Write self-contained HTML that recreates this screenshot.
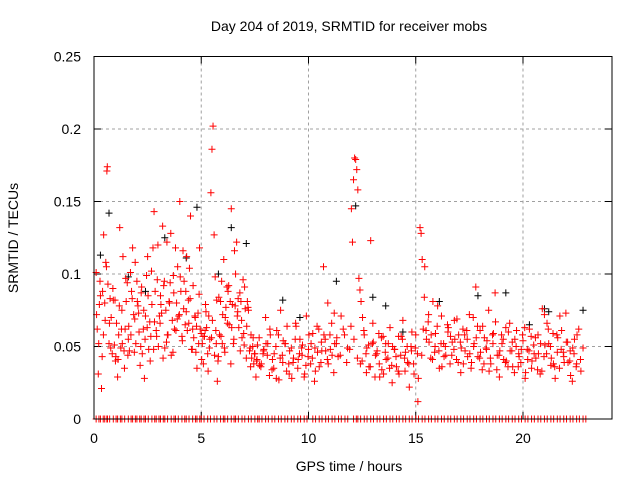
<!DOCTYPE html>
<html><head><meta charset="utf-8"><style>
html,body{margin:0;padding:0;background:#fff;}
svg{display:block;font-family:"Liberation Sans",sans-serif;}
</style></head><body>
<svg id="chart" width="640" height="480" viewBox="0 0 640 480">
<text x="349" y="31" font-size="14" text-anchor="middle">Day 204 of 2019, SRMTID for receiver mobs</text>
<text x="349" y="471" font-size="14" text-anchor="middle">GPS time / hours</text>
<text transform="translate(18,238) rotate(-90)" font-size="14" text-anchor="middle">SRMTID / TECUs</text>
<g id="grid"></g>
<g id="ticks"></g>
<g id="black"></g>
<g id="red"></g>
<rect x="94" y="56.5" width="518" height="362.5" fill="none" stroke="#000" stroke-width="1"/>
</svg>
<script>
const xTicks=[0,5,10,15,20];
const yTicks=[0,0.05,0.1,0.15,0.2,0.25];
const yTickLabels=["0","0.05","0.1","0.15","0.2","0.25"];
const redHours=[0.1,0.15,0.2,0.25,0.3,0.35,0.4,0.45,0.5,0.55,0.6,0.62,0.65,0.7,0.75,0.8,0.85,0.9,0.95,1.0,1.05,1.1,1.15,1.2,1.25,1.3,1.35,1.4,1.45,1.5,1.55,1.6,1.65,1.7,1.75,1.8,1.85,1.9,1.95,2.0,2.05,2.1,2.15,2.2,2.25,2.3,2.35,2.4,2.45,2.5,2.55,2.6,2.65,2.7,2.75,2.8,2.85,2.9,2.95,3.0,3.05,3.1,3.15,3.2,3.25,3.3,3.35,3.4,3.45,3.5,3.55,3.6,3.65,3.7,3.75,3.8,3.85,3.9,3.95,4.0,4.05,4.1,4.15,4.2,4.25,4.3,4.35,4.4,4.45,4.5,4.55,4.6,4.65,4.7,4.75,4.8,4.85,4.9,4.95,5.0,5.05,5.1,5.15,5.2,5.25,5.3,5.35,5.4,5.45,5.5,5.55,5.6,5.65,5.7,5.72,5.75,5.8,5.85,5.9,5.95,6.0,6.05,6.1,6.15,6.2,6.25,6.3,6.35,6.4,6.45,6.5,6.55,6.6,6.65,6.7,6.75,6.8,6.85,6.9,6.95,7.0,7.05,7.1,7.15,7.2,7.25,7.3,7.35,7.4,7.45,7.5,7.55,7.6,7.7,7.8,7.9,8.0,8.1,8.2,8.3,8.4,8.5,8.6,8.7,8.8,8.9,9.0,9.1,9.2,9.3,9.4,9.5,9.6,9.7,9.8,9.9,10.0,10.1,10.2,10.3,10.4,10.5,10.6,10.7,10.8,10.9,11.0,11.1,11.2,11.3,11.4,11.5,11.6,11.7,11.8,11.9];
const redValues=[0.101,0.062,0.031,0.079,0.085,0.021,0.088,0.127,0.08,0.108,0.171,0.174,0.093,0.052,0.083,0.07,0.045,0.082,0.051,0.04,0.066,0.029,0.058,0.132,0.049,0.075,0.112,0.047,0.062,0.081,0.094,0.055,0.047,0.101,0.088,0.118,0.072,0.069,0.052,0.095,0.078,0.06,0.037,0.087,0.045,0.062,0.028,0.071,0.099,0.112,0.048,0.067,0.057,0.079,0.118,0.143,0.088,0.061,0.096,0.05,0.071,0.085,0.073,0.133,0.092,0.049,0.075,0.122,0.058,0.081,0.094,0.044,0.068,0.099,0.062,0.118,0.08,0.105,0.071,0.15,0.088,0.057,0.116,0.095,0.065,0.074,0.061,0.082,0.104,0.14,0.048,0.062,0.056,0.071,0.046,0.035,0.073,0.086,0.062,0.059,0.052,0.038,0.057,0.079,0.063,0.045,0.071,0.055,0.156,0.186,0.202,0.127,0.098,0.052,0.082,0.026,0.043,0.058,0.081,0.095,0.072,0.11,0.046,0.077,0.091,0.088,0.065,0.081,0.145,0.079,0.052,0.116,0.1,0.122,0.074,0.063,0.087,0.081,0.056,0.096,0.051,0.076,0.042,0.081,0.075,0.047,0.036,0.042,0.05,0.038,0.045,0.029,0.041,0.056,0.038,0.047,0.07,0.052,0.062,0.034,0.045,0.028,0.058,0.075,0.039,0.052,0.064,0.031,0.049,0.042,0.066,0.035,0.055,0.044,0.029,0.071,0.048,0.038,0.059,0.049,0.064,0.036,0.053,0.105,0.047,0.08,0.058,0.044,0.073,0.052];
const redHoursB=[12.0,12.05,12.1,12.15,12.2,12.25,12.3,12.35,12.4,12.45,12.5,12.6,12.7,12.8,12.9,13.0,13.1,13.2,13.3,13.4,13.5,13.6,13.7,13.8,13.9,14.0,14.1,14.2,14.3,14.4,14.5,14.6,14.7,14.8,14.9,15.0,15.1,15.2,15.25,15.3,15.35,15.4,15.5,15.6,15.7,15.8,15.9,16.0,16.1,16.2,16.3,16.4,16.5,16.6,16.7,16.8,16.9,17.0,17.1,17.2,17.3,17.4,17.5,17.6,17.7,17.8,17.9,18.0,18.1,18.2,18.3,18.4,18.5,18.6,18.7,18.8,18.9,19.0,19.1,19.2,19.3,19.4,19.5,19.6,19.7,19.8,19.9,20.0,20.1,20.2,20.3,20.4,20.5,20.6,20.7,20.8,20.9,21.0,21.1,21.2,21.3,21.4,21.5,21.6,21.7,21.8,21.9,22.0,22.1,22.2,22.3,22.4,22.5,22.6,22.7,22.8];
const redValuesB=[0.145,0.122,0.165,0.18,0.179,0.172,0.158,0.097,0.089,0.081,0.04,0.058,0.032,0.051,0.123,0.066,0.029,0.047,0.038,0.056,0.031,0.052,0.042,0.063,0.025,0.048,0.036,0.057,0.044,0.068,0.033,0.05,0.022,0.047,0.038,0.058,0.012,0.132,0.128,0.11,0.062,0.084,0.055,0.072,0.042,0.081,0.05,0.064,0.035,0.071,0.052,0.044,0.06,0.038,0.053,0.068,0.041,0.058,0.032,0.062,0.047,0.055,0.072,0.039,0.05,0.091,0.043,0.061,0.034,0.056,0.048,0.075,0.038,0.052,0.087,0.044,0.029,0.058,0.041,0.063,0.036,0.047,0.053,0.032,0.061,0.045,0.039,0.054,0.028,0.048,0.062,0.035,0.051,0.042,0.058,0.031,0.076,0.072,0.045,0.052,0.037,0.059,0.028,0.046,0.035,0.061,0.043,0.073,0.039,0.047,0.026,0.055,0.038,0.062,0.033,0.049,0.041,0.058];
const redHoursC=[0.12,0.28,0.44,0.58,0.72,0.88,1.02,1.18,1.32,1.48,1.62,1.78,1.92,2.08,2.22,2.38,2.52,2.68,2.82,2.98,3.12,3.28,3.42,3.58,3.72,3.88,4.02,4.18,4.32,4.48,4.62,4.78,4.92,5.08,5.22,5.38,5.52,5.68,5.82,5.98,6.12,6.28,6.42,6.58,6.72,6.88,7.02,7.18,7.32,7.48,7.62,7.78,7.92,8.08,8.22,8.38,8.52,8.68,8.82,8.98,9.12,9.28,9.42,9.58,9.72,9.88,10.02,10.18,10.32,10.48,10.62,10.78,10.92,11.08,11.22,11.38,11.52,11.68,11.82,11.98,12.12,12.28,12.42,12.58,12.72,12.88,13.02,13.18,13.32,13.48,13.62,13.78,13.92,14.08,14.22,14.38,14.52,14.68,14.82,14.98,15.12,15.28,15.42,15.58,15.72,15.88,16.02,16.18,16.32,16.48,16.62,16.78,16.92,17.08,17.22,17.38,17.52,17.68,17.82,17.98,18.12,18.28,18.42,18.58,18.72,18.88,19.02,19.18,19.32,19.48,19.62,19.78,19.92,20.08,20.22,20.38,20.52,20.68,20.82,20.98,21.12,21.28,21.42,21.58,21.72,21.88,22.02,22.18,22.32,22.48,22.62,22.78];
const redValuesC=[0.072,0.095,0.058,0.105,0.066,0.09,0.043,0.078,0.052,0.097,0.064,0.083,0.108,0.073,0.091,0.055,0.085,0.102,0.067,0.12,0.079,0.095,0.058,0.128,0.087,0.069,0.098,0.076,0.112,0.083,0.092,0.064,0.118,0.057,0.074,0.049,0.068,0.061,0.084,0.052,0.07,0.092,0.063,0.078,0.083,0.068,0.091,0.077,0.058,0.045,0.051,0.036,0.048,0.044,0.058,0.035,0.061,0.042,0.054,0.033,0.047,0.039,0.064,0.045,0.051,0.037,0.058,0.042,0.033,0.062,0.047,0.055,0.038,0.066,0.052,0.043,0.071,0.058,0.049,0.064,0.055,0.042,0.038,0.061,0.049,0.036,0.053,0.045,0.029,0.057,0.041,0.035,0.05,0.043,0.031,0.055,0.046,0.038,0.06,0.049,0.028,0.044,0.105,0.067,0.058,0.046,0.078,0.052,0.043,0.065,0.057,0.048,0.069,0.053,0.038,0.061,0.045,0.07,0.056,0.042,0.064,0.049,0.033,0.058,0.067,0.044,0.052,0.039,0.06,0.047,0.055,0.036,0.048,0.063,0.041,0.057,0.045,0.034,0.052,0.043,0.066,0.05,0.038,0.058,0.071,0.046,0.053,0.04,0.049,0.036];
const redHoursD=[0.22,0.38,0.52,0.78,0.98,1.12,1.28,1.42,1.58,1.72,1.88,2.02,2.18,2.32,2.48,2.62,2.78,2.92,3.08,3.22,3.38,3.52,3.68,3.82,3.98,4.12,4.28,4.42,4.58,4.72,4.88,5.02,5.18,5.32,5.48,5.62,5.78,5.92,6.08,6.22,6.38,6.52,6.68,6.82,6.98,7.12,7.28,7.42,7.58,7.72,7.88,8.02,8.18,8.32,8.48,8.62,8.78,8.92,9.08,9.22,9.38,9.52,9.68,9.82,9.98,10.12,10.28,10.42,10.58,10.72,10.88,11.02,11.18,11.32,11.48,11.62,11.78,11.92,12.52,12.68,12.82,12.98,13.12,13.28,13.42,13.58,13.72,13.88,14.02,14.18,14.32,14.48,14.62,14.78,14.92,15.08,15.48,15.62,15.78,15.92,16.08,16.22,16.38,16.52,16.68,16.82,16.98,17.12,17.28,17.42,17.58,17.72,17.88,18.02,18.18,18.32,18.48,18.62,18.78,18.92,19.08,19.22,19.38,19.52,19.68,19.82,19.98,20.12,20.28,20.42,20.58,20.72,20.88,21.02,21.18,21.32,21.48,21.62,21.78,21.92,22.08,22.22,22.38,22.52,22.68];
const redValuesD=[0.052,0.043,0.068,0.049,0.082,0.041,0.062,0.035,0.044,0.058,0.046,0.081,0.05,0.075,0.063,0.04,0.048,0.057,0.066,0.042,0.053,0.08,0.046,0.061,0.072,0.054,0.088,0.066,0.048,0.07,0.052,0.041,0.061,0.033,0.056,0.044,0.04,0.057,0.049,0.066,0.038,0.055,0.071,0.047,0.059,0.064,0.049,0.056,0.04,0.037,0.045,0.052,0.03,0.041,0.05,0.027,0.044,0.052,0.038,0.028,0.055,0.041,0.049,0.031,0.043,0.052,0.026,0.046,0.039,0.058,0.041,0.048,0.032,0.056,0.044,0.062,0.039,0.048,0.07,0.045,0.036,0.052,0.044,0.059,0.034,0.046,0.052,0.037,0.048,0.033,0.057,0.042,0.039,0.05,0.031,0.045,0.061,0.053,0.041,0.059,0.047,0.036,0.05,0.063,0.044,0.055,0.039,0.049,0.058,0.043,0.035,0.052,0.064,0.046,0.038,0.054,0.042,0.059,0.034,0.047,0.055,0.04,0.066,0.036,0.05,0.043,0.058,0.032,0.047,0.04,0.056,0.045,0.033,0.051,0.062,0.042,0.036,0.056,0.048,0.039,0.053,0.03,0.045,0.058,0.041];
const blackHours=[0.3,0.7,1.6,2.4,3.3,4.3,4.8,5.8,6.4,7.1,8.8,9.6,11.3,12.2,13.0,13.6,14.4,16.1,17.9,19.2,20.3,21.0,21.2,22.8];
const blackValues=[0.113,0.142,0.098,0.088,0.125,0.111,0.146,0.1,0.132,0.121,0.082,0.07,0.095,0.147,0.084,0.078,0.06,0.081,0.085,0.087,0.065,0.076,0.074,0.075];
const zeroHours=[0.1,0.3,0.5,0.6,0.9,1.1,1.3,1.6,1.8,2.0,2.2,2.4,2.7,2.9,3.1,3.3,3.6,3.8,4.1,4.3,4.6,4.8,5.0,5.3,5.6,5.9,6.1,6.4,6.6,6.9,7.2,7.5,7.7,8.0,8.3,8.6,8.9,9.2,9.5,9.8,10.2,10.5,10.8,11.1,11.4,11.7,12.1,12.3,12.6,12.9,13.2,13.5,13.8,14.1,14.4,14.7,15.0,15.3,15.6,15.9,16.2,16.5,16.8,17.1,17.4,17.7,18.0,18.3,18.6,18.9,19.2,19.5,19.8,20.1,20.4,20.7,21.0,21.3,21.6,21.9,22.2,22.5,22.8];
const X0=94,XW=518,XMAX=24.15,Y0=419,YH=362.5,YMAX=0.25;
const sx=h=>X0+h/XMAX*XW, sy=v=>Y0-v/YMAX*YH;
const NS="http://www.w3.org/2000/svg";
function mk(tag,attrs,parent){const e=document.createElementNS(NS,tag);for(const k in attrs)e.setAttribute(k,attrs[k]);parent.appendChild(e);return e;}
const grid=document.getElementById('grid'),ticks=document.getElementById('ticks');
yTicks.forEach((v,i)=>{const y=sy(v);
 if(i>0&&i<yTicks.length-1){const l=mk('line',{x1:X0,x2:X0+XW,y1:y,y2:y,stroke:'#a0a0a0','stroke-dasharray':'3,3'},grid);}
 const t=mk('text',{x:X0-13,y:y+5,'font-size':14,'text-anchor':'end'},ticks);t.textContent=yTickLabels[i];
 
 
 mk('line',{x1:X0,x2:X0+7,y1:y,y2:y,stroke:'#000'},ticks);
 mk('line',{x1:X0+XW,x2:X0+XW-7,y1:y,y2:y,stroke:'#000'},ticks);});
xTicks.forEach((h,i)=>{const x=sx(h);
 if(i>0){const l=mk('line',{x1:x,x2:x,y1:Y0-YH,y2:Y0,stroke:'#a0a0a0','stroke-dasharray':'3,3'},grid);}
 const t=mk('text',{x:x,y:443,'font-size':14,'text-anchor':'middle'},ticks);t.textContent=String(h);
 
 
 mk('line',{x1:x,x2:x,y1:Y0,y2:Y0-7,stroke:'#000'},ticks);
 mk('line',{x1:x,x2:x,y1:Y0-YH,y2:Y0-YH+7,stroke:'#000'},ticks);});
function plus(g,h,v,col,name){const x=sx(h),y=sy(v);
 const p=mk('path',{d:`M${x-3.5},${y}H${x+3.5}M${x},${y-3.5}V${y+3.5}`,stroke:col,'stroke-width':1,fill:'none'},g);
 
 }
const bg=document.getElementById('black'),rg=document.getElementById('red');
blackHours.forEach((h,i)=>plus(bg,h,blackValues[i],'#000','black-point'));
[[redHours,redValues],[redHoursB,redValuesB],[redHoursC,redValuesC],[redHoursD,redValuesD]].forEach(([hs,vs])=>{
 const n=Math.min(hs.length,vs.length);
 for(let i=0;i<n;i++)plus(rg,hs[i],vs[i],'#f00','red-point');});
zeroHours.forEach(h=>{plus(rg,h,0,'#f00','zero-point');plus(rg,h+0.13,0,'#f00','zero-point');});
</script>
</body></html>
